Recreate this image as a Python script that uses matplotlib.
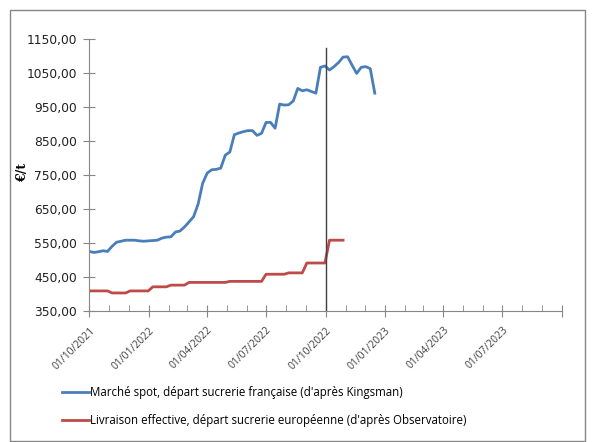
import pandas as pd
import matplotlib
matplotlib.use('Agg')
import matplotlib.pyplot as plt
import matplotlib.dates as mdates
from matplotlib.patches import Rectangle
from matplotlib.ticker import FuncFormatter

# Données hebdomadaires (€/t)
debut = '2021-10-01'
spot_kingsman = [525, 522, 524, 527, 525, 540, 552, 555, 558, 558,
                 558, 556, 555, 556, 557, 558, 564, 567, 568, 582,
                 585, 597, 612, 627, 664, 725, 755, 765, 766, 770,
                 808, 817, 868, 873, 877, 880, 880, 866, 872, 904,
                 904, 887, 958, 955, 956, 967, 1004, 997, 1000, 995,
                 990, 1066, 1070, 1058, 1068, 1080, 1096, 1097, 1072, 1048,
                 1066, 1068, 1062, 990]
livraison_obs = [409, 409, 409, 409, 409, 403, 403, 403, 403, 409,
                 409, 409, 409, 409, 421, 421, 421, 421, 426, 426,
                 426, 426, 434, 434, 434, 434, 434, 434, 434, 434,
                 434, 437, 437, 437, 437, 437, 437, 437, 437, 458,
                 458, 458, 458, 458, 462, 462, 462, 462, 491, 491,
                 491, 491, 491, 558, 558, 558, 558]

labels = ["Marché spot, départ sucrerie française (d'après Kingsman)",
          "Livraison effective, départ sucrerie européenne (d'après Observatoire)"]
ticks_x = ['2021-10-01', '2022-01-01', '2022-04-01', '2022-07-01', '2022-10-01',
           '2023-01-01', '2023-04-01', '2023-07-01', '2023-10-01']
ticks_y = [350, 450, 550, 650, 750, 850, 950, 1050, 1150]

dates_spot = pd.date_range(debut, periods=len(spot_kingsman), freq='7D')
dates_obs = pd.date_range(debut, periods=len(livraison_obs), freq='7D')

fig = plt.figure(figsize=(5.92, 4.42), dpi=100)
ax = fig.add_axes([0.151, 0.2964, 0.798, 0.616])

l1, = ax.plot(dates_spot, spot_kingsman, color='#4A7EBB', lw=2.0, label=labels[0])
l2, = ax.plot(dates_obs, livraison_obs, color='#BE4B48', lw=2.0, label=labels[1])

# trait vertical au 01/10/2022
ax.plot(pd.to_datetime(['2022-10-01', '2022-10-01']), [350, 1122], color='#404040', lw=1.0)

ax.set_xlim(pd.Timestamp('2021-10-01'), pd.Timestamp('2023-10-01'))
ax.set_ylim(350, 1150)
ax.set_yticks(ticks_y)
ax.yaxis.set_major_formatter(FuncFormatter(lambda v, p: f'{v:.2f}'.replace('.', ',')))

xt = pd.to_datetime(ticks_x)
ax.set_xticks(xt)
ax.set_xticklabels([d.strftime('%d/%m/%Y') for d in xt[:-1]] + [''],
                   rotation=45, ha='right', rotation_mode='anchor',
                   fontsize=7.5, family='Open Sans', color='#404040')
ax.xaxis.set_minor_locator(mdates.MonthLocator())

for s in ['top', 'right']:
    ax.spines[s].set_visible(False)
for s in ['left', 'bottom']:
    ax.spines[s].set_color('#868686')
ax.tick_params(axis='y', direction='inout', length=8, color='#868686',
               labelsize=8.8, labelcolor='#202020', pad=5)
ax.tick_params(axis='x', which='major', direction='inout', length=8, color='#868686', pad=6)
ax.tick_params(axis='x', which='minor', direction='in', length=4, color='#868686')

ax.set_ylabel('€/t', fontsize=9, fontweight='bold', family='DejaVu Serif')
ax.yaxis.set_label_coords(-0.127, 0.51)

fig.legend(handles=[l1, l2], loc='upper left', bbox_to_anchor=(0.097, 0.138),
           frameon=False, prop={'family': 'Open Sans', 'size': 8.3},
           handlelength=2.3, handletextpad=0.1, labelspacing=1.3, borderaxespad=0)

# cadre du graphique
fig.patches.append(Rectangle((10 / 592, 0.002), 575 / 592, (442 - 9.5) / 442 - 0.002,
                             transform=fig.transFigure, fill=False,
                             edgecolor='#868686', lw=1.0))

fig.savefig('out.png', dpi=100)
